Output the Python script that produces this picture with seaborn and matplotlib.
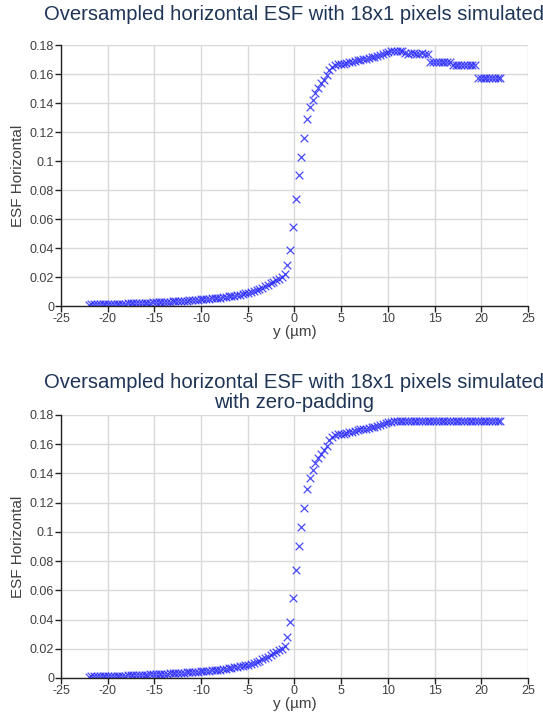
import matplotlib
matplotlib.use("Agg")
import matplotlib.pyplot as plt
import seaborn as sns
import pandas as pd
from matplotlib.ticker import FuncFormatter, MultipleLocator

# sample positions (um) along the edge profile
y_pos = [
    -22.05, -21.75, -21.45, -21.15, -20.85, -20.55, -20.25, -19.95, -19.65, -19.35,
    -19.05, -18.75, -18.45, -18.15, -17.85, -17.55, -17.25, -16.95, -16.65, -16.35,
    -16.05, -15.75, -15.45, -15.15, -14.85, -14.55, -14.25, -13.95, -13.65, -13.35,
    -13.05, -12.75, -12.45, -12.15, -11.85, -11.55, -11.25, -10.95, -10.65, -10.35,
    -10.05, -9.75, -9.45, -9.15, -8.85, -8.55, -8.25, -7.95, -7.65, -7.35,
    -7.05, -6.75, -6.45, -6.15, -5.85, -5.55, -5.25, -4.95, -4.65, -4.35,
    -4.05, -3.75, -3.45, -3.15, -2.85, -2.55, -2.25, -1.95, -1.65, -1.35,
    -1.05, -0.75, -0.45, -0.15, 0.15, 0.45, 0.75, 1.05, 1.35, 1.65,
    1.95, 2.25, 2.55, 2.85, 3.15, 3.45, 3.75, 4.05, 4.35, 4.65,
    4.95, 5.25, 5.55, 5.85, 6.15, 6.45, 6.75, 7.05, 7.35, 7.65,
    7.95, 8.25, 8.55, 8.85, 9.15, 9.45, 9.75, 10.05, 10.35, 10.65,
    10.95, 11.25, 11.55, 11.85, 12.15, 12.45, 12.75, 13.05, 13.35, 13.65,
    13.95, 14.25, 14.55, 14.85, 15.15, 15.45, 15.75, 16.05, 16.35, 16.65,
    16.95, 17.25, 17.55, 17.85, 18.15, 18.45, 18.75, 19.05, 19.35, 19.65,
    19.95, 20.25, 20.55, 20.85, 21.15, 21.45, 21.75, 22.05,
]

# ESF, 18x1 pixels simulated
esf_plain = [
    0.0010, 0.0011, 0.0011, 0.0012, 0.0012, 0.0013, 0.0013, 0.0014, 0.0014, 0.0015,
    0.0015, 0.0016, 0.0016, 0.0017, 0.0018, 0.0018, 0.0019, 0.0020, 0.0020, 0.0021,
    0.0022, 0.0023, 0.0024, 0.0025, 0.0026, 0.0027, 0.0028, 0.0029, 0.0030, 0.0031,
    0.0032, 0.0033, 0.0034, 0.0035, 0.0036, 0.0038, 0.0039, 0.0040, 0.0042, 0.0043,
    0.0045, 0.0047, 0.0048, 0.0050, 0.0052, 0.0054, 0.0056, 0.0058, 0.0061, 0.0063,
    0.0066, 0.0069, 0.0072, 0.0075, 0.0079, 0.0083, 0.0087, 0.0092, 0.0097, 0.0103,
    0.0110, 0.0118, 0.0127, 0.0137, 0.0147, 0.0158, 0.0168, 0.0178, 0.0189, 0.0201,
    0.0222, 0.0280, 0.0385, 0.0545, 0.0740, 0.0905, 0.1030, 0.1160, 0.1290, 0.1370,
    0.1420, 0.1470, 0.1505, 0.1535, 0.1560, 0.1590, 0.1625, 0.1650, 0.1665, 0.1670,
    0.1670, 0.1672, 0.1675, 0.1680, 0.1685, 0.1690, 0.1695, 0.1700, 0.1703, 0.1706,
    0.1710, 0.1714, 0.1718, 0.1722, 0.1730, 0.1738, 0.1745, 0.1752, 0.1757, 0.1760,
    0.1762, 0.1760, 0.1758, 0.1745, 0.1740, 0.1742, 0.1742, 0.1740, 0.1740, 0.1742,
    0.1740, 0.1738, 0.1685, 0.1685, 0.1686, 0.1686, 0.1685, 0.1685, 0.1684, 0.1684,
    0.1660, 0.1660, 0.1660, 0.1659, 0.1659, 0.1660, 0.1660, 0.1660, 0.1659, 0.1575,
    0.1575, 0.1575, 0.1575, 0.1575, 0.1575, 0.1575, 0.1575, 0.1575,
]

# ESF, 18x1 pixels simulated with zero-padding
esf_padded = [
    0.0010, 0.0011, 0.0011, 0.0012, 0.0012, 0.0013, 0.0013, 0.0014, 0.0014, 0.0015,
    0.0015, 0.0016, 0.0016, 0.0017, 0.0018, 0.0018, 0.0019, 0.0020, 0.0020, 0.0021,
    0.0022, 0.0023, 0.0024, 0.0025, 0.0026, 0.0027, 0.0028, 0.0029, 0.0030, 0.0031,
    0.0032, 0.0033, 0.0034, 0.0035, 0.0036, 0.0038, 0.0039, 0.0040, 0.0042, 0.0043,
    0.0045, 0.0047, 0.0048, 0.0050, 0.0052, 0.0054, 0.0056, 0.0058, 0.0061, 0.0063,
    0.0066, 0.0069, 0.0072, 0.0075, 0.0079, 0.0083, 0.0087, 0.0092, 0.0097, 0.0103,
    0.0110, 0.0118, 0.0127, 0.0137, 0.0147, 0.0158, 0.0168, 0.0178, 0.0189, 0.0201,
    0.0222, 0.0280, 0.0385, 0.0545, 0.0740, 0.0905, 0.1030, 0.1160, 0.1290, 0.1370,
    0.1420, 0.1470, 0.1505, 0.1535, 0.1560, 0.1590, 0.1625, 0.1650, 0.1665, 0.1668,
    0.1670, 0.1672, 0.1675, 0.1680, 0.1685, 0.1690, 0.1695, 0.1700, 0.1703, 0.1706,
    0.1710, 0.1714, 0.1718, 0.1722, 0.1730, 0.1738, 0.1744, 0.1750, 0.1753, 0.1755,
    0.1755, 0.1755, 0.1755, 0.1755, 0.1755, 0.1755, 0.1755, 0.1755, 0.1755, 0.1755,
    0.1755, 0.1755, 0.1755, 0.1755, 0.1755, 0.1755, 0.1755, 0.1755, 0.1755, 0.1755,
    0.1755, 0.1755, 0.1755, 0.1755, 0.1755, 0.1755, 0.1755, 0.1755, 0.1755, 0.1755,
    0.1755, 0.1755, 0.1755, 0.1755, 0.1755, 0.1755, 0.1755, 0.1755,
]

titles = [
    "Oversampled horizontal ESF with 18x1 pixels simulated",
    "Oversampled horizontal ESF with 18x1 pixels simulated\nwith zero-padding",
]

sns.set_style("whitegrid")
plt.rcParams["font.family"] = ["Liberation Sans", "DejaVu Sans"]
plt.rcParams["axes.unicode_minus"] = False

fig = plt.figure(figsize=(5.43, 7.17), dpi=100)
ax_top = fig.add_axes([0.1123, 0.5732, 0.860, 0.364])
ax_bot = fig.add_axes([0.1123, 0.0544, 0.860, 0.367])

for ax, vals, title, pad in [(ax_top, esf_plain, titles[0], 18), (ax_bot, esf_padded, titles[1], 5)]:
    df = pd.DataFrame({"y": y_pos, "esf": vals})
    sns.scatterplot(data=df, x="y", y="esf", ax=ax, marker="x", s=30,
                    color="#2a2aff", linewidth=0.9, alpha=0.85)
    ax.set_xlim(-25, 25)
    ax.set_ylim(0, 0.18)
    ax.xaxis.set_major_locator(MultipleLocator(5))
    ax.yaxis.set_major_locator(MultipleLocator(0.02))
    ax.yaxis.set_major_formatter(FuncFormatter(lambda v, p: f"{round(v, 2):g}"))
    ax.grid(True, color="#d9d9d9", linewidth=1)
    for side in ["top", "right"]:
        ax.spines[side].set_visible(False)
    for side in ["left", "bottom"]:
        ax.spines[side].set_color("#222222")
        ax.spines[side].set_linewidth(1)
    ax.tick_params(axis="both", which="major", direction="out", length=4, width=1,
                   color="#222222", labelsize=9, labelcolor="#404040", pad=1,
                   left=True, bottom=True)
    ax.set_xlabel("y (µm)", fontsize=11, color="#404040", labelpad=0)
    ax.set_ylabel("ESF Horizontal", fontsize=11, color="#404040", labelpad=3)
    ax.set_title(title, fontsize=14.6, color="#1f3556", pad=pad, linespacing=1.05)

fig.savefig("out.png", dpi=100)
